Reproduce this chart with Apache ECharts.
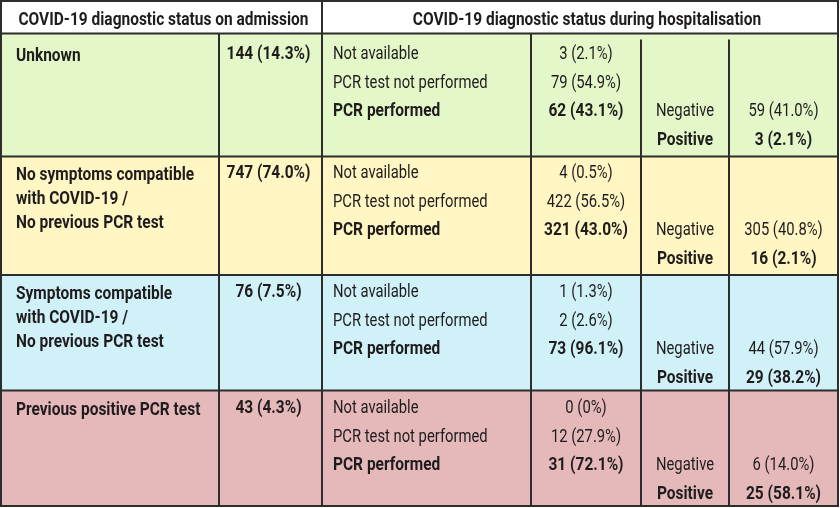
<!DOCTYPE html>
<html><head><meta charset="utf-8">
<script src="https://cdn.jsdelivr.net/npm/echarts@6/dist/echarts.min.js"></script>
<style>html,body{margin:0;padding:0;background:#fff}#c{width:840px;height:508px}</style>
</head><body><div id="c"></div>
<script>
// ---------- data ----------
const headers = ['COVID-19 diagnostic status on admission', 'COVID-19 diagnostic status during hospitalisation'];
const admissionStatus = ['Unknown', 'No symptoms compatible\nwith COVID-19 /\nNo previous PCR test', 'Symptoms compatible\nwith COVID-19 /\nNo previous PCR test', 'Previous positive PCR test'];
const admissionCount = [144, 747, 76, 43];
const admissionPct = ['14.3', '74.0', '7.5', '4.3'];
const hospitalLabels = ['Not available', 'PCR test not performed', 'PCR performed'];
const notAvailableCount = [3, 4, 1, 0];
const notAvailablePct = ['2.1', '0.5', '1.3', '0'];
const notPerformedCount = [79, 422, 2, 12];
const notPerformedPct = ['54.9', '56.5', '2.6', '27.9'];
const performedCount = [62, 321, 73, 31];
const performedPct = ['43.1', '43.0', '96.1', '72.1'];
const resultLabels = ['Negative', 'Positive'];
const negativeCount = [59, 305, 44, 6];
const negativePct = ['41.0', '40.8', '57.9', '14.0'];
const positiveCount = [3, 16, 29, 25];
const positivePct = ['2.1', '2.1', '38.2', '58.1'];

// ---------- layout & style ----------
const colEdges = [1, 219, 322, 531, 641, 729, 838];
const rowEdges = [1, 33.5, 156.5, 275, 390.5, 506];
const firstLine = [19.5, 15.5, 16, 16.5];
const lineGap = 28.5;
const rowFills = ['#e3f7c8', '#fff6c3', '#d0f1f8', '#e5b9b9'];
const FONT = 'Roboto, "Noto Sans", sans-serif';
const FS = 19, SX = 0.778, SXB = 0.815, DY = 1.5, INK = '#1f1c1d', LINE = '#2d2d2d', LW = 2;

function fmt(n, p) { return n + ' (' + p + '%)'; }
function mid(a, b) { return (a + b) / 2; }
function txt(api, x, y, text, bold, align) {
  const c = api.coord([x, y + DY]);
  return {
    type: 'text', x: c[0], y: c[1], scaleX: bold ? SXB : SX, z2: 20,
    style: { text: text, fill: INK, fontFamily: FONT, fontSize: FS,
      fontWeight: bold ? 'bold' : 'normal', align: align || 'left', verticalAlign: 'middle' }
  };
}
function seg(api, x1, y1, x2, y2) {
  const a = api.coord([x1, y1]), b = api.coord([x2, y2]);
  return { type: 'line', z2: 10, shape: { x1: a[0], y1: a[1], x2: b[0], y2: b[1] },
    style: { stroke: LINE, lineWidth: LW } };
}

const rowData = admissionStatus.map((s, i) => [i, admissionCount[i], notAvailableCount[i], notPerformedCount[i],
  performedCount[i], negativeCount[i], positiveCount[i]]);

function renderRow(params, api) {
  const i = params.dataIndex;
  const L = colEdges;
  const top = rowEdges[i + 1], bot = rowEdges[i + 2];
  const ly = k => top + firstLine[i] + k * lineGap;
  const a = api.coord([L[0], top]), b = api.coord([L[6], bot]);
  const c1 = api.coord([L[0] + 15, ly(0) - 12 + 3]);
  const children = [
    { type: 'rect', z2: 0, shape: { x: a[0], y: a[1], width: b[0] - a[0], height: b[1] - a[1] }, style: { fill: rowFills[i] } },
    { type: 'text', x: c1[0], y: c1[1], scaleX: SXB, z2: 20,
      style: { text: admissionStatus[i], fill: INK, fontFamily: FONT, fontSize: FS, fontWeight: 'bold',
        align: 'left', verticalAlign: 'top', lineHeight: 24 } },
    txt(api, mid(L[1], L[2]) - 2, ly(0), fmt(api.value(1), admissionPct[i]), true, 'center'),
    txt(api, L[2] + 11, ly(0), hospitalLabels[0], false),
    txt(api, L[2] + 11, ly(1), hospitalLabels[1], false),
    txt(api, L[2] + 11, ly(2), hospitalLabels[2], true),
    txt(api, mid(L[3], L[4]), ly(0), fmt(api.value(2), notAvailablePct[i]), false, 'center'),
    txt(api, mid(L[3], L[4]), ly(1), fmt(api.value(3), notPerformedPct[i]), false, 'center'),
    txt(api, mid(L[3], L[4]), ly(2), fmt(api.value(4), performedPct[i]), true, 'center'),
    txt(api, mid(L[4], L[5]), ly(2), resultLabels[0], false, 'center'),
    txt(api, mid(L[4], L[5]), ly(3), resultLabels[1], true, 'center'),
    txt(api, mid(L[5], L[6]), ly(2), fmt(api.value(5), negativePct[i]), false, 'center'),
    txt(api, mid(L[5], L[6]), ly(3), fmt(api.value(6), positivePct[i]), true, 'center'),
    seg(api, L[0], bot, L[6], bot),
    seg(api, L[1], top, L[1], bot),
    seg(api, L[2], top, L[2], bot),
    seg(api, L[3], top, L[3], bot),
    seg(api, L[4], top + (i === 0 ? 6 : 0), L[4], bot),
    seg(api, L[5], top + (i === 0 ? 6 : 0), L[5], bot)
  ];
  return { type: 'group', children: children };
}

function renderHeader(params, api) {
  const L = colEdges;
  const a = api.coord([L[0], rowEdges[0]]), b = api.coord([L[6], rowEdges[1]]);
  const z = api.coord([L[6], rowEdges[rowEdges.length - 1]]);
  const hy = mid(rowEdges[0], rowEdges[1]) + 1.5;
  return { type: 'group', children: [
    { type: 'rect', z2: 0, shape: { x: a[0], y: a[1], width: b[0] - a[0], height: b[1] - a[1] }, style: { fill: '#ffffff' } },
    txt(api, mid(L[0], L[2]) + 2, hy, headers[0], true, 'center'),
    txt(api, mid(L[2], L[6]) + 7, hy, headers[1], true, 'center'),
    seg(api, L[0], rowEdges[1], L[6], rowEdges[1]),
    seg(api, L[2], rowEdges[0], L[2], rowEdges[1]),
    { type: 'rect', z2: 30, shape: { x: a[0], y: a[1], width: z[0] - a[0], height: z[1] - a[1] },
      style: { fill: 'none', stroke: LINE, lineWidth: LW } }
  ] };
}

const chart = echarts.init(document.getElementById('c'), null, { renderer: 'canvas' });
chart.setOption({
  animation: false,
  backgroundColor: '#ffffff',
  grid: { left: 0, top: 0, right: 0, bottom: 0 },
  xAxis: { type: 'value', min: 0, max: 840, show: false },
  yAxis: { type: 'value', min: 0, max: 508, inverse: true, show: false },
  tooltip: { show: false },
  series: [
    { type: 'custom', z: 2, silent: true, data: rowData, renderItem: renderRow },
    { type: 'custom', z: 3, silent: true, data: [[0]], renderItem: renderHeader }
  ]
});
</script>
</body></html>
